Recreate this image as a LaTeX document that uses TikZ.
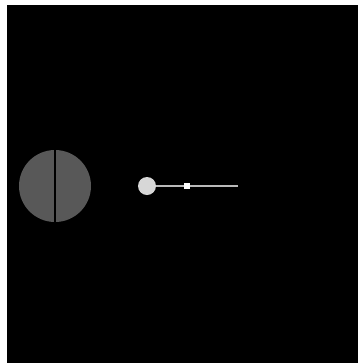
\documentclass[tikz,border=0pt]{standalone}
\usepackage{xcolor}
\usepackage{tikz}
\definecolor{planetgray}{RGB}{88,88,88}
\definecolor{moongray}{RGB}{215,215,215}
\definecolor{traillight}{RGB}{185,185,185}

\begin{document}
\begin{tikzpicture}[x=0.02cm, y=-0.02cm,
    body/.style={circle, inner sep=0pt, draw=none},
    probe/.style={rectangle, inner sep=0pt, minimum size=6*0.02cm, fill=white}
]
\useasboundingbox (0,0) rectangle (358,363);
%% background
\fill[white] (0,0) rectangle (358,363);
\fill[black] (7,5) rectangle (358,363);
%% planet with its split line
\node[body, fill=planetgray, minimum size=72*0.02cm] (planet) at (55,186) {};
\draw[black, line width=1.2pt] (planet.north) -- (planet.south);
%% moon, probe and trail
\node[body, fill=moongray, minimum size=18*0.02cm] (moon) at (147,186) {};
\coordinate (trailend) at (238,186);
\draw[traillight, line width=0.7pt] (moon.east) -- (trailend);
\node[probe] (sat) at (187,186) {};
\end{tikzpicture}
\end{document}
